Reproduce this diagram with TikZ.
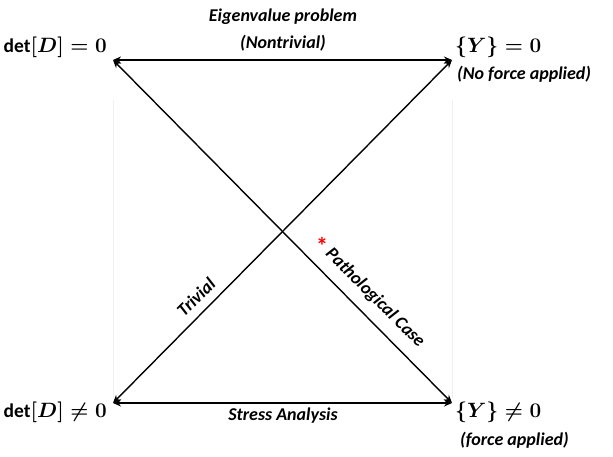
\documentclass[tikz,border=0pt]{standalone}
\usepackage{fontspec}
\setmainfont{Carlito}
\usetikzlibrary{arrows.meta}
\begin{document}
\begin{tikzpicture}[x=1pt,y=-1pt,
  lbl/.style={font=\bfseries\itshape\fontsize{18}{20}\selectfont, inner sep=0pt},
  mth/.style={font=\boldmath\fontsize{19.5}{21}\selectfont, inner sep=0pt},
  link/.style={line width=1.4pt, {Stealth[length=8pt,width=7pt]}-{Stealth[length=8pt,width=7pt]}},
  faint/.style={draw=black!6, line width=0.6pt}]
\useasboundingbox (0,0) rectangle (613,456);
\coordinate (tl) at (113,60);
\coordinate (tr) at (452,60);
\coordinate (bl) at (113,403);
\coordinate (br) at (452,403);
\draw[faint] (113,100) -- (113,398);
\draw[faint] (452,100) -- (452,398);
\draw[link] (tl) -- (tr);
\draw[link] (bl) -- (br);
\draw[link] (tl) -- (br);
\draw[link] (bl) -- (tr);
\node[mth, anchor=east] (dd0) at (107,47) {$\det[D]=0$};
\node[mth, anchor=west] (y0) at (455,47) {$\{Y\}=0$};
\node[mth, anchor=east] (dd1) at (107,412) {$\det[D]\neq0$};
\node[mth, anchor=west] (y1) at (455,412) {$\{Y\}\neq0$};
\node[lbl] (eig) at (283,17) {Eigenvalue problem};
\node[lbl] (nontriv) at (283,43) {(Nontrivial)};
\node[lbl, anchor=west] (nof) at (457,74) {(No force applied)};
\node[lbl] (stress) at (283,416) {Stress Analysis};
\node[lbl, anchor=west] (fa) at (460,440) {(force applied)};
\node[lbl, rotate=45] (triv) at (196,297) {Trivial};
\node[lbl, rotate=-45] (path) at (375,298) {Pathological Case};
\node[text=red, font=\bfseries\fontsize{24}{24}\selectfont, inner sep=0pt] (ast) at (322,246) {*};
\end{tikzpicture}
\end{document}
